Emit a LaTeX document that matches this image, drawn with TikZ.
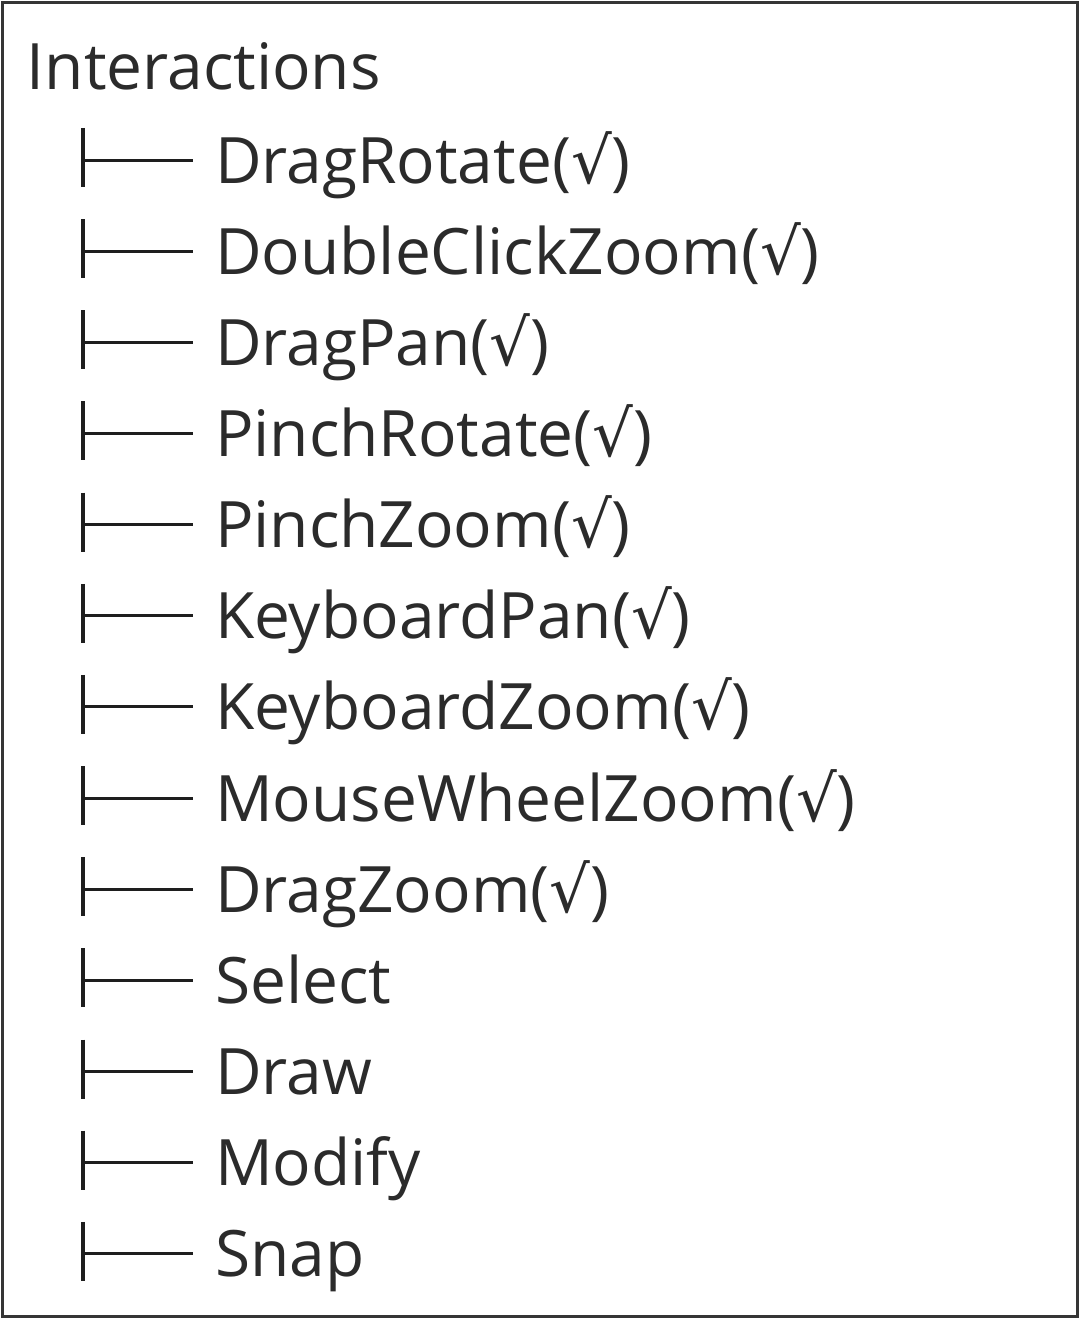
\documentclass[tikz,border=0pt]{standalone}
\usepackage{fontspec}
\setmainfont{Open Sans}
\newfontfamily\symfont{DejaVu Sans}
\definecolor{txt}{HTML}{2B2B2B}
\definecolor{ln}{HTML}{1E1E1E}
\begin{document}
\begin{tikzpicture}[x=1pt,y=-1pt,
  lbl/.style={anchor=base west,inner sep=0pt,outer sep=0pt,text=txt,font=\fontsize{64}{76}\selectfont},
  branch/.style={draw=ln,line width=3pt},
  vbar/.style={draw=ln,line width=4pt}]
\useasboundingbox (0,0) rectangle (1081,1319);
\fill[white] (0,0) rectangle (1081,1319);
\draw[draw=ln!90,line width=3pt] (2.5,2.5) rectangle (1077.5,1316);
\node[lbl] (root) at (27,90) {Interactions};
\foreach \t [count=\i] in {DragRotate({\symfont √}),DoubleClickZoom({\symfont √}),DragPan({\symfont √}),PinchRotate({\symfont √}),PinchZoom({\symfont √}),KeyboardPan({\symfont √}),KeyboardZoom({\symfont √}),MouseWheelZoom({\symfont √}),DragZoom({\symfont √}),Select,Draw,Modify,Snap}{
  \pgfmathsetmacro\yb{183+(\i-1)*91.15}
  \node[lbl] (n\i) at (215,\yb) {\t};
  \coordinate (top\i) at (83,\yb-55);
  \coordinate (bot\i) at (83,\yb+4);
  \coordinate (mid\i) at (83,\yb-23);
  \coordinate (end\i) at (193,\yb-23);
  \draw[vbar] (top\i) -- (bot\i);
  \draw[branch] (mid\i) -- (end\i);
}
\end{tikzpicture}
\end{document}
